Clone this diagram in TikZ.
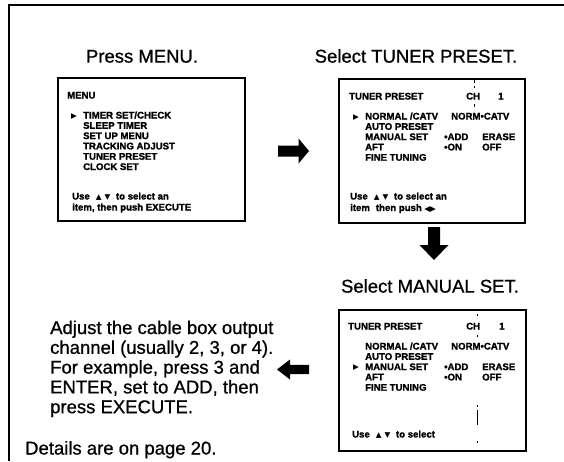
\documentclass[tikz,border=0pt]{standalone}
\usepackage{fontspec}
\setmainfont[FakeBold=0.8]{Liberation Sans}
\newfontfamily\scrf[FakeBold=1.6]{Liberation Sans Bold}
\newfontfamily\symf{DejaVu Sans}
\newcommand{\tri}[1]{{\symf\fontsize{7.5}{8}\selectfont #1}}
\begin{document}
\begin{tikzpicture}[x=1pt,y=-1pt,
  big/.style={font=\fontsize{18.5}{19.8}\selectfont, inner sep=0pt},
  scr/.style={draw, line width=2.1pt, inner sep=0pt, anchor=north west},
  mt/.style={font=\scrf\fontsize{9.6}{10.3}\selectfont, inner sep=0pt, anchor=base west},
  fat/.style={fill=black},
  tick/.style={line width=0.9pt}
]
\useasboundingbox (0,0) rectangle (564,461);
% page frame
\coordinate (fc) at (9,5);
\coordinate (fr) at (564,5);
\coordinate (fb) at (9,461);
\draw[line width=1.6pt] (fr) -- (fc) -- (fb);

% titles
\node[big, anchor=base] (t1) at (142,62.6) {Press MENU.};
\node[big, anchor=base] (t2) at (416,62.6) {Select TUNER PRESET.};
\node[big, anchor=base] (t3) at (430,292.6) {Select MANUAL SET.};

% screens
\node[scr, minimum width=187pt, minimum height=143pt] (b1) at (57,77) {};
\node[scr, minimum width=186pt, minimum height=144pt] (b2) at (338,78) {};
\node[scr, minimum width=187pt, minimum height=141pt] (b3) at (338,309) {};

% screen 1
\node[mt] (m0) at (67,98.5) {MENU};
\node[mt] (m0a) at (71,118.3) {\tri{▶}};
\foreach \t [count=\i from 0] in {TIMER SET/CHECK,SLEEP TIMER,SET UP MENU,TRACKING ADJUST,TUNER PRESET,CLOCK SET}
  \node[mt] (m1-\i) at (83,118.5+10.3*\i) {\t};
\node[mt] (m1u) at (72,199.5) {Use\hspace{6pt}\tri{▲}\hspace{3pt}\tri{▼}\hspace{3pt} to select an};
\node[mt] (m1v) at (72,210.5) {item, then push EXECUTE};

% screen 2
\node[mt] (s2h) at (349,99.5) {TUNER PRESET};
\node[mt] (s2c) at (466,99.5) {CH};
\node[mt] (s2n) at (498,99.5) {1};
\node[mt] (s2a) at (353,119.3) {\tri{▶}};
\foreach \t [count=\i from 0] in {NORMAL /CATV,AUTO PRESET,MANUAL SET,AFT,FINE TUNING}
  \node[mt] (s2-\i) at (365,119.5+10.3*\i) {\t};
\node[mt] (s2x) at (451,119.5) {NORM•CATV};
\node[mt] (s2y) at (444,140.1) {•ADD};
\node[mt] (s2z) at (482,140.1) {ERASE};
\node[mt] (s2w) at (444,150.4) {•ON};
\node[mt] (s2o) at (482,150.4) {OFF};
\node[mt] (s2u) at (350,199.5) {Use\hspace{6pt}\tri{▲}\hspace{3pt}\tri{▼}\hspace{3pt} to select an};
\node[mt] (s2v) at (350,211) {item\hspace{6pt}then push \tri{◀}\tri{▶}};
\draw[tick] (474,80) -- (474,83);
\draw[tick] (474,86) -- (474,88);
\draw[tick] (474,104) -- (474,107);

% screen 3
\node[mt] (s3h) at (348,329.5) {TUNER PRESET};
\node[mt] (s3c) at (466,329.5) {CH};
\node[mt] (s3n) at (499,329.5) {1};
\node[mt] (s3a) at (353,369.9) {\tri{▶}};
\foreach \t [count=\i from 0] in {NORMAL /CATV,AUTO PRESET,MANUAL SET,AFT,FINE TUNING}
  \node[mt] (s3-\i) at (365,349.5+10.3*\i) {\t};
\node[mt] (s3x) at (451,349.5) {NORM•CATV};
\node[mt] (s3y) at (444,370.1) {•ADD};
\node[mt] (s3z) at (482,370.1) {ERASE};
\node[mt] (s3w) at (444,380.4) {•ON};
\node[mt] (s3o) at (482,380.4) {OFF};
\node[mt] (s3u) at (352,437.5) {Use\hspace{6pt}\tri{▲}\hspace{3pt}\tri{▼}\hspace{3pt} to select};
\draw[tick] (477,314) -- (477,315.5);
\draw[tick] (477,335) -- (477,336.5);
\draw[tick] (477,405) -- (477,406.5);
\draw[tick] (477,410) -- (477,425);
\draw[tick] (477,441) -- (477,442.5);

% big arrows
\coordinate (a1) at (278,151);
\fill[fat] (a1) ++(0,-5.5) -- ++(20.6,0) -- ++(0,-7) -- ++(10.4,12.5) -- ++(-10.4,12.5) -- ++(0,-7) -- ++(-20.6,0) -- cycle;
\coordinate (a2) at (434,227);
\fill[fat] (a2) ++(-6,0) -- ++(0,18) -- ++(-8.5,0) -- ++(14.5,15) -- ++(14.5,-15) -- ++(-8.5,0) -- ++(0,-18) -- cycle;
\coordinate (a3) at (309,369.5);
\fill[fat] (a3) ++(0,-4.7) -- ++(-19,0) -- ++(0,-5.3) -- ++(-13,10) -- ++(13,10) -- ++(0,-5.3) -- ++(19,0) -- cycle;

% instructions
\foreach \t [count=\i from 0] in {Adjust the cable box output,channel (usually 2{,} 3{,} or 4).,For example{,} press 3 and,ENTER{,} set to ADD{,} then,press EXECUTE.}
  \node[big, anchor=base west] (p-\i) at (50,334+19.8*\i) {\t};
\node[big, anchor=base west] (det) at (25,454.5) {Details are on page 20.};
\end{tikzpicture}
\end{document}
